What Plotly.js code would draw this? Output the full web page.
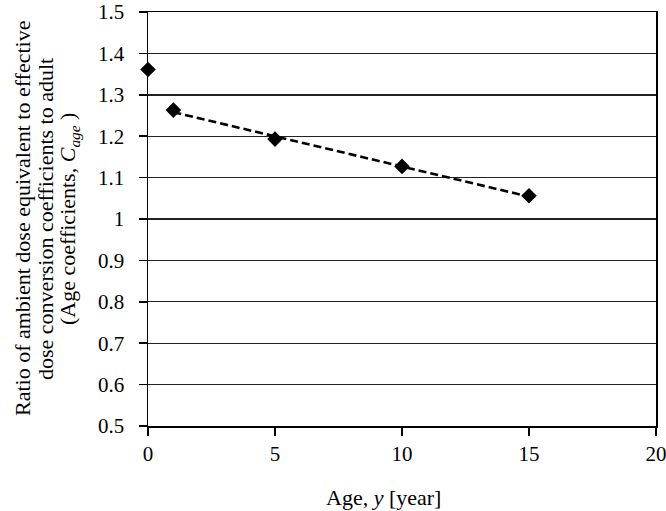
<!DOCTYPE html>
<html>
<head>
<meta charset="utf-8">
<script src="https://cdn.plot.ly/plotly-3.0.1.min.js"></script>
<style>html,body{margin:0;padding:0;background:#fff;}#chart{width:666px;height:511px;}</style>
</head>
<body>
<div id="chart"></div>
<script>
// Data
const ages = [0, 1, 5, 10, 15];
const ageCoefficients = [1.361, 1.263, 1.193, 1.127, 1.056];
// Linear trend line (ages 1-15)
const trendAges = [1, 15];
const trendValues = [1.258, 1.054];
const xTicks = [0, 5, 10, 15, 20];
const yTicks = [0.5, 0.6, 0.7, 0.8, 0.9, 1.0, 1.1, 1.2, 1.3, 1.4, 1.5];
const yTickText = ['0.5', '0.6', '0.7', '0.8', '0.9', '1', '1.1', '1.2', '1.3', '1.4', '1.5'];
const xTitle = 'Age, <i>y</i> [year]';
const yTitleLines = [
  'Ratio of ambient dose equivalent to effective',
  'dose conversion coefficients to adult',
  '(Age coefficients, <i>C<sub>age</sub></i> )'
];

const family = '"Liberation Serif", "Times New Roman", serif';
const tickFont = {family: family, size: 21, color: '#000'};
const titleFont = {family: family, size: 22, color: '#000'};

const traces = [
  {
    x: trendAges, y: trendValues, type: 'scatter', mode: 'lines',
    line: {color: '#000', width: 2.6, dash: '8px,4px'},
    hoverinfo: 'skip', showlegend: false
  },
  {
    x: ages, y: ageCoefficients, type: 'scatter', mode: 'markers',
    marker: {symbol: 'diamond', size: 12, color: '#000'},
    showlegend: false, cliponaxis: false
  }
];

// Title positions (paper coordinates relative to the plot area)
const yTitleX = [-0.248, -0.2028, -0.1555];
const annotations = yTitleLines.map((t, i) => ({
  text: t, xref: 'paper', yref: 'paper', x: yTitleX[i], y: 0.5,
  xanchor: 'center', yanchor: 'middle', textangle: -90,
  showarrow: false, font: titleFont
}));
annotations.push({
  text: xTitle, xref: 'paper', yref: 'paper', x: 0.4626, y: -0.1715,
  xanchor: 'center', yanchor: 'middle', showarrow: false, font: titleFont
});

const layout = {
  width: 666, height: 511,
  margin: {l: 148, r: 10, t: 12, b: 85},
  paper_bgcolor: '#fff', plot_bgcolor: '#fff',
  font: tickFont,
  showlegend: false,
  annotations: annotations,
  xaxis: {
    range: [0, 20], tickvals: xTicks, ticktext: xTicks.map(String),
    showgrid: false, zeroline: false,
    showline: true, linecolor: '#000', linewidth: 1.5, mirror: true,
    ticks: 'outside', ticklen: 8, tickcolor: '#000', tickwidth: 1.5,
    tickfont: tickFont, ticklabelstandoff: 0, ticklabeloverflow: 'allow',
    automargin: false
  },
  yaxis: {
    range: [0.5, 1.5], tickvals: yTicks, ticktext: yTickText,
    showgrid: true, gridcolor: '#222', gridwidth: 1.4,
    zeroline: false,
    showline: true, linecolor: '#000', linewidth: 1.5, mirror: true,
    ticks: 'outside', ticklen: 8, tickcolor: '#000', tickwidth: 1.5,
    tickfont: tickFont, ticklabelstandoff: 10, ticklabeloverflow: 'allow',
    automargin: false
  }
};

Plotly.newPlot('chart', traces, layout, {displayModeBar: false, staticPlot: true});
</script>
</body>
</html>
